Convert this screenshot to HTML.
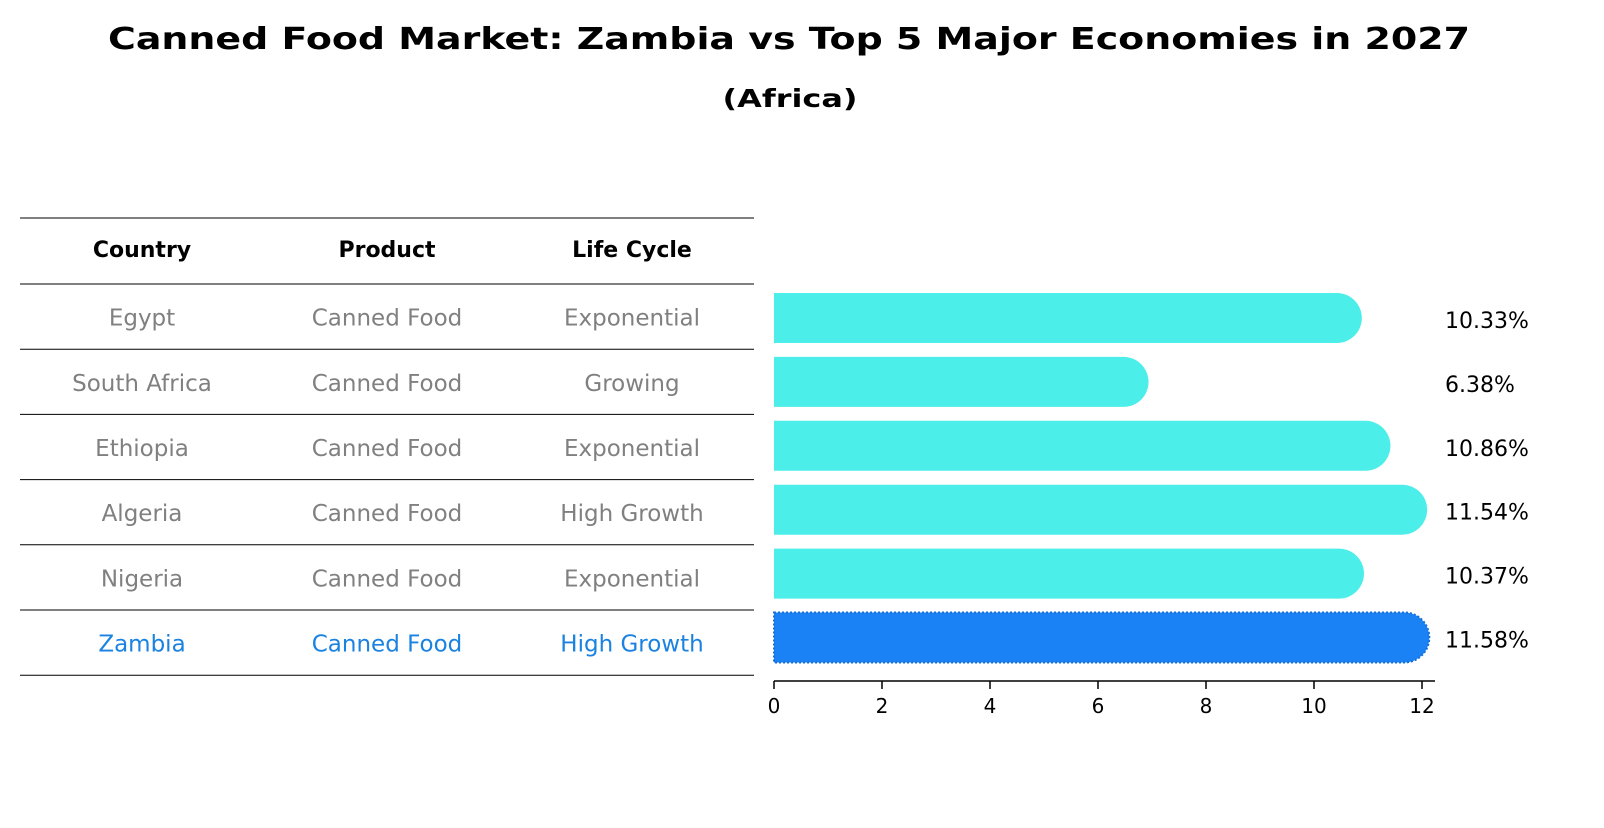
<!DOCTYPE html>
<html><head><meta charset="utf-8"><style>
body{margin:0;background:#fff;font-family:"Liberation Sans","DejaVu Sans",sans-serif;}
</style></head><body>
<svg width="1604" height="823" xmlns="http://www.w3.org/2000/svg" font-family="DejaVu Sans, Liberation Sans, sans-serif">
<text x="789" y="49" text-anchor="middle" font-size="30" font-weight="bold" textLength="1362" lengthAdjust="spacingAndGlyphs">Canned Food Market: Zambia vs Top 5 Major Economies in 2027</text>
<text x="790" y="107" text-anchor="middle" font-size="25" font-weight="bold" textLength="135" lengthAdjust="spacingAndGlyphs">(Africa)</text>
<g id="table"></g>
<g id="bars"></g>
<g id="axis"></g>
</svg>
<script>
const countries=["Egypt","South Africa","Ethiopia","Algeria","Nigeria","Zambia"];
const products=["Canned Food","Canned Food","Canned Food","Canned Food","Canned Food","Canned Food"];
const lifecycles=["Exponential","Growing","Exponential","High Growth","Exponential","High Growth"];
const values=[10.33,6.38,10.86,11.54,10.37,11.58];
const ticks=[0,2,4,6,8,10,12];
const NS="http://www.w3.org/2000/svg";
function mk(t,a,p,txt){const e=document.createElementNS(NS,t);for(const k in a)e.setAttribute(k,a[k]);if(txt!==undefined)e.textContent=txt;p.appendChild(e);return e;}
const x0=774,unit=54.0;
function xs(v){return x0+v*unit;}
const rowTop=284,rowH=65.2;
const tb=document.getElementById('table');
const colX=[142,387,632];
const heads=["Country","Product","Life Cycle"];
heads.forEach((h,i)=>{const e=mk('text',{x:colX[i],y:257,'text-anchor':'middle','font-size':22,'font-weight':'bold'},tb,h);

});
for(let i=0;i<=countries.length+1;i++){const y=i==0?218:rowTop+(i-1)*rowH;
const l=mk('line',{x1:20,x2:754,y1:y,y2:y,stroke:'#000','stroke-width':1},tb);

}
countries.forEach((c,i)=>{const cy=rowTop+i*rowH+rowH/2+9;const col=i==countries.length-1?'#1a82e0':'#808080';
[c,products[i],lifecycles[i]].forEach((t,j)=>{const e=mk('text',{x:colX[j],y:cy,'text-anchor':'middle','font-size':23,fill:col},tb,t);

});});
const bg=document.getElementById('bars');
const bh=50,r=25;
values.forEach((v,i)=>{const cy=318+i*63.9;const last=i==values.length-1;
const xe=xs(v)+r+5;
const d=`M${x0},${cy-bh/2} L${xe-r},${cy-bh/2} A${r},${r} 0 0 1 ${xe-r},${cy+bh/2} L${x0},${cy+bh/2} Z`;
const p=mk('path',{d:d,fill:last?'#1a82f5':'#4beee8',stroke:last?'#1670d8':'none','stroke-width':last?2:0,'stroke-dasharray':last?'2 2':''},bg);


const t=mk('text',{x:1445,y:cy+10,'font-size':22},bg,v.toFixed(2)+'%');

});
const ax=document.getElementById('axis');
mk('line',{x1:x0,x2:1435,y1:681,y2:681,stroke:'#000','stroke-width':1.5},ax);
ticks.forEach(t=>{const x=xs(t);mk('line',{x1:x,x2:x,y1:681,y2:689,stroke:'#000','stroke-width':1.5},ax);
const e=mk('text',{x:x,y:713,'text-anchor':'middle','font-size':20},ax,t);

});
</script>
</body></html>
